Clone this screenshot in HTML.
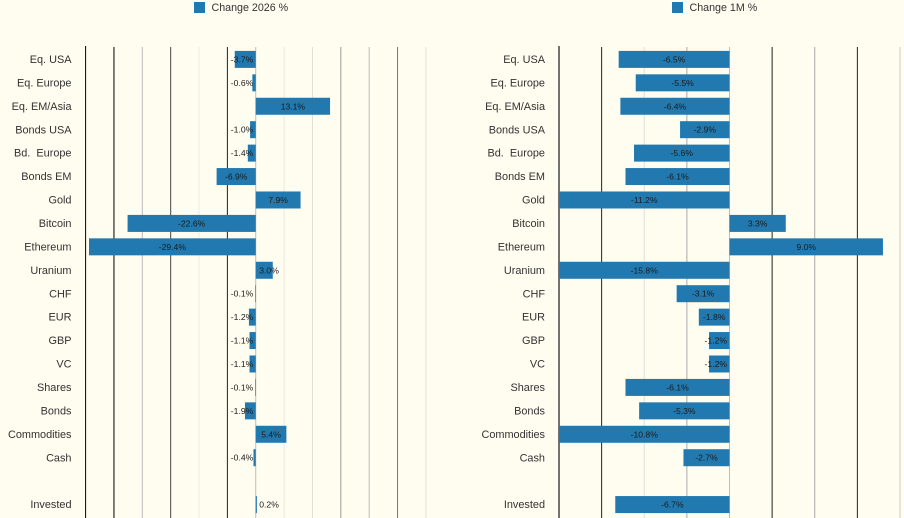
<!DOCTYPE html>
<html lang="en">
<head>
<meta charset="utf-8">
<title>Change 2026 % and Change 1M %</title>
<style>
html,body{margin:0;padding:0;background:#fffcf0;}
body{width:904px;height:518px;overflow:hidden;}
svg{display:block;font-family:"Liberation Sans",sans-serif;background:#fffcf0;}
.cat{font-size:10.9px;fill:#333;text-anchor:end;white-space:pre;filter:blur(0.3px);}
.val{font-size:8.6px;fill:#1a1a1a;filter:blur(0.25px);}
.leg{font-size:10.7px;fill:#333;filter:blur(0.3px);}
.bar{fill:#2179b0;}
.grid{stroke-width:1;fill:none;}
.a0,.a1{stroke:#000;}
.a2{stroke:#bbb;}
.a3{stroke:#444;}
.a4{stroke:#efecdf;}
.a5{stroke:#222;}
.a6{stroke:#bbb;}
.a7{stroke:#ece9dd;}
.a8{stroke:#e2e0d6;}
.a9{stroke:#999;}
.a10{stroke:#bbb;}
.a11{stroke:#777;}
.a12{stroke:#e6e3d8;}
.b0{stroke:#444;stroke-width:1.5;}
.b1{stroke:#222;}
.b2{stroke:#ddd;}
.b3{stroke:#aaa;}
.b4{stroke:#bbb;}
.b5{stroke:#222;}
.b6{stroke:#aaa;}
.b7{stroke:#222;}
.b8{stroke:#ccc;}
</style>
</head>
<body>
<svg id="chart" width="904" height="518" viewBox="0 0 904 518" xmlns="http://www.w3.org/2000/svg"></svg>
<script>
const categories = ["Eq. USA","Eq. Europe","Eq. EM/Asia","Bonds USA","Bd.  Europe","Bonds EM","Gold","Bitcoin","Ethereum","Uranium","CHF","EUR","GBP","VC","Shares","Bonds","Commodities","Cash","","Invested"];
const changeYtd = [-3.7,-0.6,13.1,-1.0,-1.4,-6.9,7.9,-22.6,-29.4,3.0,-0.1,-1.2,-1.1,-1.1,-0.1,-1.9,5.4,-0.4,null,0.2];
const change1m = [-6.5,-5.5,-6.4,-2.9,-5.6,-6.1,-11.2,3.3,9.0,-15.8,-3.1,-1.8,-1.2,-1.2,-6.1,-5.3,-10.8,-2.7,null,-6.7];
const ytdTicks = [-30,-25,-20,-15,-10,-5,0,5,10,15,20,25,30];
const oneMonthTicks = [-10,-7.5,-5,-2.5,0,2.5,5,7.5,10];
const ytdDomain = [-30,30];
const oneMonthDomain = [-10,10];
const ytdLegend = "Change 2026 %";
const oneMonthLegend = "Change 1M %";

const NS = "http://www.w3.org/2000/svg";
const svg = document.getElementById("chart");

function yBand(i){ return 59.4 + 23.43 * i; }
function linear(domain, x0, x1){
  return function(v){ return x0 + (v - domain[0]) / (domain[1] - domain[0]) * (x1 - x0); };
}
function node(parent, tag, attrs, text){
  const el = document.createElementNS(NS, tag);
  for (const k in attrs) el.setAttribute(k, attrs[k]);
  if (text !== undefined) el.textContent = text;
  parent.appendChild(el);
  return el;
}

function panel(opts){
  const x = linear(opts.domain, opts.x0, opts.x1);
  const zero = x(0);

  const g = node(svg, "g", {});
  
  

  const swatch = node(g, "rect", {x: opts.legendX, y: 2, width: 11, height: 11, class: "bar"});
  
  

  const legendText = node(g, "text", {x: opts.legendX + 17.5, y: 11, class: "leg"}, opts.legend);
  
  

  opts.ticks.forEach(function(t, i){
    const px = x(t);
    const line = node(g, "line", {x1: px, x2: px, y1: i === 0 ? 46 : 47, y2: 518, class: "grid " + opts.gridPrefix + i});
    
    
  });

  categories.forEach(function(c, i){
    const cy = yBand(i);
    if (c !== "") {
      const label = node(g, "text", {x: opts.labelX, y: cy + 3.6, class: "cat"}, c);
      
      
    }
    const v = opts.values[i];
    if (v === null) return;

    const clamped = Math.max(opts.domain[0], Math.min(opts.domain[1], v));
    const left = Math.min(x(clamped), zero);
    const right = Math.max(x(clamped), zero);
    const width = right - left;

    const bar = node(g, "rect", {x: left, y: cy - 8.5, width: width, height: 17, class: "bar"});
    
    

    let vx, anchor;
    if (width < 24) {
      vx = v < 0 ? zero - 2.5 : zero + 3.5;
      anchor = v < 0 ? "end" : "start";
    } else {
      vx = (left + right) / 2;
      anchor = "middle";
    }
    const valueLabel = node(g, "text", {x: vx, y: cy + 3, class: "val", "text-anchor": anchor}, v.toFixed(1) + "%");
    
    
  });
}

panel({name: "change-2026", legend: ytdLegend, values: changeYtd, ticks: ytdTicks, domain: ytdDomain,
       x0: 85.6, x1: 425.9, labelX: 71.5, legendX: 194, gridPrefix: "a"});
panel({name: "change-1m", legend: oneMonthLegend, values: change1m, ticks: oneMonthTicks, domain: oneMonthDomain,
       x0: 559, x1: 900, labelX: 545, legendX: 672, gridPrefix: "b"});
</script>
</body>
</html>
